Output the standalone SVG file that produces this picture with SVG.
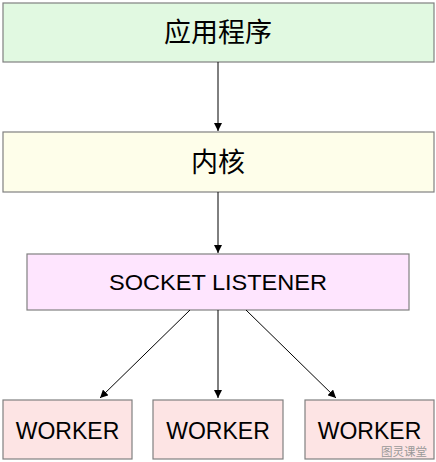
<svg xmlns="http://www.w3.org/2000/svg" width="436" height="462" viewBox="0 0 436 462">
<defs>
<marker id="ah" viewBox="0 0 10 10" refX="10" refY="5" markerWidth="8" markerHeight="8" markerUnits="userSpaceOnUse" orient="auto">
<path d="M0,0 L10,5 L0,10 z" fill="#000"/>
</marker>
<style>
.box{stroke:#808080;stroke-width:1.2}
.cn{font-family:"Liberation Sans","Noto Sans CJK SC",sans-serif;font-size:27px;fill:#000;text-anchor:middle}
.en{font-family:"Liberation Sans",Arial,sans-serif;fill:#000;text-anchor:middle}
.ln{stroke:#000;stroke-width:1;fill:none;marker-end:url(#ah)}
</style>
</defs>
<rect width="436" height="462" fill="#fff"/>
<g id="app">
<rect class="box" x="3" y="3" width="431" height="59" fill="#e1f9e1"/>
<text class="cn" x="218" y="42">应用程序</text>
</g>
<g id="kernel">
<rect class="box" x="3" y="132" width="431" height="60" fill="#fefeea"/>
<text class="cn" x="218" y="172">内核</text>
</g>
<g id="listener">
<rect class="box" x="27" y="254" width="382" height="56" fill="#fee5fe"/>
<text class="en" x="218" y="290" font-size="22" textLength="218" lengthAdjust="spacingAndGlyphs">SOCKET LISTENER</text>
</g>
<g id="worker1">
<rect class="box" x="3" y="400" width="129" height="59" fill="#fde4e4"/>
<text class="en" x="67.5" y="439" font-size="23">WORKER</text>
</g>
<g id="worker2">
<rect class="box" x="153" y="400" width="130" height="59" fill="#fde4e4"/>
<text class="en" x="218" y="439" font-size="23">WORKER</text>
</g>
<g id="worker3">
<rect class="box" x="305" y="400" width="129" height="59" fill="#fde4e4"/>
<text class="en" x="369.5" y="439" font-size="23">WORKER</text>
</g>
<g id="connectors">
<line class="ln" x1="218" y1="62" x2="218" y2="131"/>
<line class="ln" x1="218" y1="192" x2="218" y2="253"/>
<line class="ln" x1="190" y1="310" x2="100" y2="398"/>
<line class="ln" x1="218" y1="310" x2="218" y2="398"/>
<line class="ln" x1="246" y1="310" x2="336" y2="398"/>
</g>
<text x="427" y="456" font-family="'Noto Sans CJK SC',sans-serif" font-size="11.5" fill="#999" text-anchor="end">图灵课堂</text>
</svg>
